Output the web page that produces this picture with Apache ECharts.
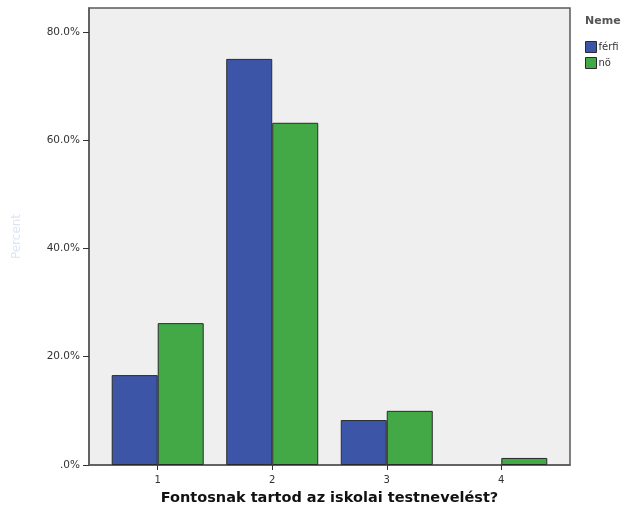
<!DOCTYPE html>
<html><head><meta charset="utf-8">
<script src="https://cdn.jsdelivr.net/npm/echarts@6/dist/echarts.min.js"></script>
<style>html,body{margin:0;padding:0;background:#fff}#c{width:624px;height:514px}</style>
</head><body><div id="c"></div>
<script>
const categories = [1, 2, 3, 4];
const ferfi = [16.6, 75.0, 8.3, 0];
const no = [26.2, 63.2, 10.0, 1.3];
const yTicks = [0, 20, 40, 60, 80];
const FONT = 'DejaVu Sans, Arial';

const chart = echarts.init(document.getElementById('c'));
chart.setOption({
  animation: false,
  backgroundColor: '#ffffff',
  title: {text: 'Neme', left: 580, top: 11, textStyle: {fontFamily: FONT, fontSize: 11, fontWeight: 'bold', color: '#555'}},
  legend: {
    orient: 'vertical', left: 580, top: 36, itemWidth: 11, itemHeight: 11, itemGap: 4, icon: 'rect',
    itemStyle: {borderColor: '#2a2a2a', borderWidth: 1},
    textStyle: {fontFamily: FONT, fontSize: 10, color: '#333', padding: [0,0,0,-3]},
    data: ['férfi', 'nö']
  },
  grid: {left: 89, right: 54, top: 8, bottom: 49, outerBoundsMode: 'none', containLabel: false,
         show: true, backgroundColor: '#efefef', borderColor: '#5a5a5a', borderWidth: 1.5},
  xAxis: {
    type: 'value', min: 0.4, max: 4.6,
    name: 'Fontosnak tartod az iskolai testnevelést?', nameLocation: 'middle', nameGap: 26,
    nameTextStyle: {fontFamily: FONT, fontSize: 14.5, fontWeight: 'bold', color: '#111'},
    splitLine: {show: false},
    axisLine: {show: true, lineStyle: {color: '#5a5a5a', width: 1.5}},
    axisTick: {show: true, customValues: categories, length: 5, lineStyle: {color: '#333'}},
    axisLabel: {customValues: categories, fontFamily: FONT, fontSize: 10, color: '#333', margin: 10}
  },
  yAxis: {
    type: 'value', min: 0, max: 84.4,
    name: 'Percent', nameLocation: 'middle', nameGap: 66,
    nameTextStyle: {fontFamily: FONT, fontSize: 12, color: '#dbe6f3'},
    splitLine: {show: false},
    axisLine: {show: true, lineStyle: {color: '#5a5a5a', width: 1.5}},
    axisTick: {show: true, customValues: yTicks, length: 6, lineStyle: {color: '#333'}},
    axisLabel: {
      customValues: yTicks, fontFamily: FONT, fontSize: 10.5, color: '#333', margin: 9,
      formatter: v => v === 0 ? '.0%' : v.toFixed(1) + '%'
    }
  },
  series: [
    {name: 'férfi', type: 'bar', barWidth: 46, barGap: '0%',
     itemStyle: {color: '#3d55a6', borderColor: '#2a2a2a', borderWidth: 1},
     data: categories.map((c, i) => [c, ferfi[i] === 0 ? null : ferfi[i]])},
    {name: 'nö', type: 'bar', barWidth: 46, barGap: '0%',
     itemStyle: {color: '#43a947', borderColor: '#2a2a2a', borderWidth: 1},
     data: categories.map((c, i) => [c, no[i] === 0 ? null : no[i]])}
  ]
});
</script></body></html>
